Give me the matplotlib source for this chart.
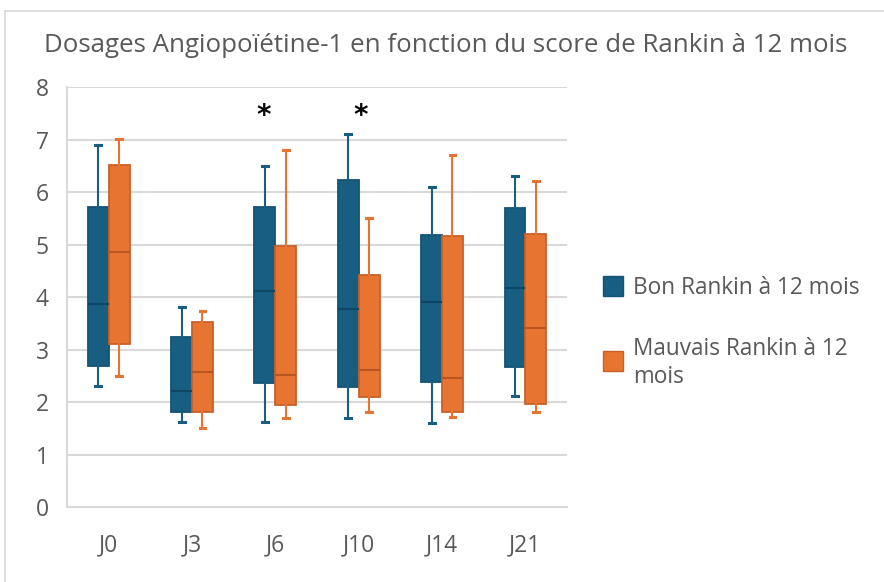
import matplotlib
matplotlib.use("Agg")
import matplotlib.pyplot as plt
from matplotlib.lines import Line2D
import numpy as np

# Données
jours = ["J0", "J3", "J6", "J10", "J14", "J21"]

bon_min = [2.31, 1.62, 1.63, 1.71, 1.61, 2.12]
bon_q1 = [2.69, 1.81, 2.36, 2.30, 2.39, 2.68]
bon_med = [3.87, 2.22, 4.12, 3.77, 3.91, 4.17]
bon_q3 = [5.72, 3.24, 5.72, 6.24, 5.19, 5.71]
bon_max = [6.91, 3.81, 6.51, 7.12, 6.11, 6.31]

mauv_min = [2.51, 1.51, 1.71, 1.82, 1.72, 1.82]
mauv_q1 = [3.12, 1.81, 1.94, 2.11, 1.82, 1.96]
mauv_med = [4.86, 2.57, 2.52, 2.62, 2.47, 3.41]
mauv_q3 = [6.52, 3.53, 4.97, 4.42, 5.16, 5.21]
mauv_max = [7.02, 3.74, 6.81, 5.52, 6.72, 6.21]

# Jours significatifs (*)
signif = ["J6", "J10"]

bleu, bleu_bord, bleu_med = "#175e82", "#145374", "#0f4663"
orange, orange_bord, orange_med = "#e87431", "#c9602a", "#b9561f"
gris = "#d9d9d9"
texte = "#595959"

plt.rcParams["font.family"] = ["Open Sans", "DejaVu Sans"]


def stats(mins, q1s, meds, q3s, maxs):
    return [dict(whislo=a, q1=b, med=c, q3=d, whishi=e, fliers=[])
            for a, b, c, d, e in zip(mins, q1s, meds, q3s, maxs)]


fig = plt.figure(figsize=(8.84, 5.82), dpi=100)
ax = fig.add_axes([67 / 884, 1 - 507.3 / 582, 500 / 884, 420 / 582])

x = np.arange(len(jours))
larg = 0.25

for st, pos, fc, ec, mc in [
    (stats(bon_min, bon_q1, bon_med, bon_q3, bon_max), x - larg / 2, bleu, bleu_bord, bleu_med),
    (stats(mauv_min, mauv_q1, mauv_med, mauv_q3, mauv_max), x + larg / 2, orange, orange_bord, orange_med),
]:
    ax.bxp(st, positions=pos, widths=larg, patch_artist=True, showfliers=False,
           boxprops=dict(facecolor=fc, edgecolor=ec, linewidth=1.3),
           medianprops=dict(color=mc, linewidth=1.5),
           whiskerprops=dict(color=fc, linewidth=1.5),
           capprops=dict(color=fc, linewidth=2.2),
           capwidths=0.07, zorder=3)

for j in signif:
    i = jours.index(j)
    dx = -0.14 if j == "J6" else 0.02
    ax.text(i + dx, 7.45, "*", ha="center", va="center", fontsize=20,
            fontweight="bold", color="black", family="DejaVu Sans")

ax.set_xlim(-0.5, len(jours) - 0.5)
ax.set_ylim(0, 8)
ax.set_yticks(range(0, 9))
ax.set_xticks(x)
ax.set_xticklabels(jours)
ax.yaxis.grid(True, color=gris, linewidth=1.5, zorder=0)
ax.set_axisbelow(True)
for s in ["top", "right"]:
    ax.spines[s].set_visible(False)
for s in ["left", "bottom"]:
    ax.spines[s].set_color(gris)
    ax.spines[s].set_linewidth(1.5)
ax.tick_params(axis="both", length=0, labelsize=16.5, labelcolor=texte)
ax.tick_params(axis="y", pad=13)
ax.tick_params(axis="x", pad=19)

fig.text(446 / 884, 1 - 45 / 582,
         "Dosages Angiopoïétine-1 en fonction du score de Rankin à 12 mois",
         ha="center", va="center", fontsize=18.6, color=texte)

# Légende
for yc, col, ec in [(286, bleu, bleu_bord), (361, orange, orange_bord)]:
    fig.patches.append(plt.Rectangle((603 / 884, 1 - (yc + 10) / 582), 20 / 884, 20 / 582,
                                     transform=fig.transFigure, facecolor=col,
                                     edgecolor=ec, linewidth=1))
fig.text(633 / 884, 1 - 288 / 582, "Bon Rankin à 12 mois", ha="left", va="center",
         fontsize=16.3, color=texte)
fig.text(633 / 884, 1 - 363 / 582, "Mauvais Rankin à 12\nmois", ha="left", va="center",
         fontsize=16.3, color=texte, linespacing=1.2)

# Cadre du graphique
fig.add_artist(Line2D([5 / 884, 5 / 884], [0, 1 - 11 / 582], color=gris, linewidth=1.2,
                      transform=fig.transFigure))
fig.add_artist(Line2D([5 / 884, 1], [1 - 11 / 582, 1 - 11 / 582], color=gris, linewidth=1.2,
                      transform=fig.transFigure))

fig.savefig("out.png", dpi=100)
